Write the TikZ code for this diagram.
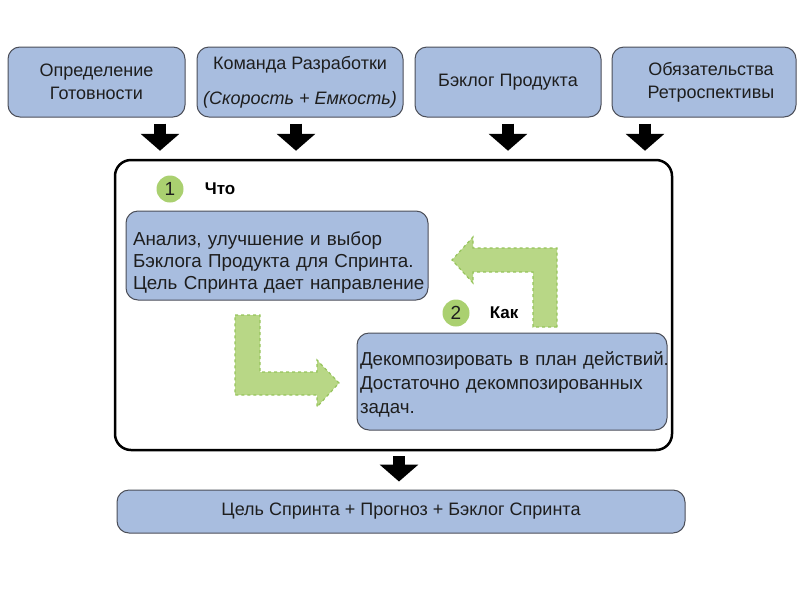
\documentclass[tikz,border=0pt]{standalone}
\usepackage{fontspec}
\setmainfont{Liberation Sans}
\usepackage{tikz}
\usetikzlibrary{positioning, arrows.meta}
\definecolor{azulCaja}{RGB}{168,189,223}
\definecolor{bordeCaja}{RGB}{75,78,88}
\definecolor{verdeFlecha}{RGB}{184,215,134}
\definecolor{verdeBorde}{RGB}{150,196,92}
\definecolor{verdeCirculo}{RGB}{170,208,112}
\definecolor{textoOscuro}{RGB}{30,30,30}

\begin{document}
\begin{tikzpicture}[x=1pt, y=-1pt,
        caja/.style={draw=bordeCaja, fill=azulCaja, line width=1pt, rounded corners=12pt,
            text=textoOscuro, font=\fontsize{18}{23}\selectfont, align=center, inner sep=0pt},
        flechaNegra/.style={black, line width=12pt, -{Triangle[length=17pt, width=38pt]}},
        flechaVerde/.style={fill=verdeFlecha, draw=verdeBorde, dashed, line width=1.2pt},
        paso/.style={circle, fill=verdeCirculo, minimum size=27pt, inner sep=0pt,
            text=textoOscuro, font=\fontsize{19}{20}\selectfont},
        etiqueta/.style={text=black, font=\fontsize{17}{18}\selectfont\bfseries, inner sep=0pt}]
        \useasboundingbox (0,0) rectangle (800,592);

        % Entradas
        \node[caja, minimum width=177pt, minimum height=70pt] (definicion) at (96.5,82) {Определение\\Готовности};
        \node[caja, minimum width=206pt, minimum height=70pt] (equipo) at (300,82) {Команда Разработки\\[12pt]\textit{(Скорость + Емкость)}};
        \node[caja, minimum width=186pt, minimum height=70pt] (backlog) at (508,82) {Бэклог Продукта};
        \node[caja, minimum width=184pt, minimum height=70pt] (retro) at (704,82) {\hspace*{14pt}Обязательства\\\hspace*{14pt}Ретроспективы};

        % Planificacion
        \node[draw, line width=2.5pt, rounded corners=16pt, minimum width=557pt, minimum height=290pt] (plan) at (393.5,305) {};

        % Flechas de entrada
        \foreach \x/\origen in {160/definicion, 296/equipo, 508/backlog, 645/retro} {
            \draw[flechaNegra, shorten <=6pt, shorten >=8pt] (\origen.south -| \x,0) -- (plan.north -| \x,0);
        }

        % Tema uno
        \node[paso] (paso1) at (170,189) {1};
        \node[etiqueta, right=21pt of paso1] (que) {Что};
        \node[caja, minimum width=302pt, minimum height=89pt, text width=288pt, align=left,
            font=\fontsize{18.8}{22}\selectfont] (analisis) at (277,255.5)
            {\rule{0pt}{27pt}\mbox{Анализ, улучшение и выбор}\\\mbox{Бэклога Продукта для Спринта.}\\\mbox{Цель Спринта дает направление}};

        % Tema dos
        \node[paso] (paso2) at (456,313) {2};
        \node[etiqueta, right=20pt of paso2] (como) {Как};
        \node[caja, minimum width=310pt, minimum height=97pt, text width=304pt, align=left,
            font=\fontsize{18.7}{24}\selectfont] (descomp) at (512,381.5)
            {\rule{0pt}{20pt}\mbox{Декомпозировать в план действий.}\\\mbox{Достаточно декомпозированных}\\\mbox{задач.}};

        % Flechas verdes
        \filldraw[flechaVerde] (235,315) -- (260,315) -- (260,372) -- (317,372) -- (317,360) -- (339,383)
            -- (317,407) -- (317,395) -- (235,395) -- cycle;
        \filldraw[flechaVerde] (557,327) -- (533,327) -- (533,272) -- (473,272) -- (473,283) -- (452,260)
            -- (473,237) -- (473,248) -- (557,248) -- cycle;

        % Resultado
        \node[caja, minimum width=568pt, minimum height=43pt] (resultado) at (401,511.5) {Цель Спринта + Прогноз + Бэклог Спринта};
        \draw[flechaNegra, shorten <=5pt, shorten >=8pt] (plan.south -| 399,0) -- (resultado.north -| 399,0);
    \end{tikzpicture}
\end{document}
